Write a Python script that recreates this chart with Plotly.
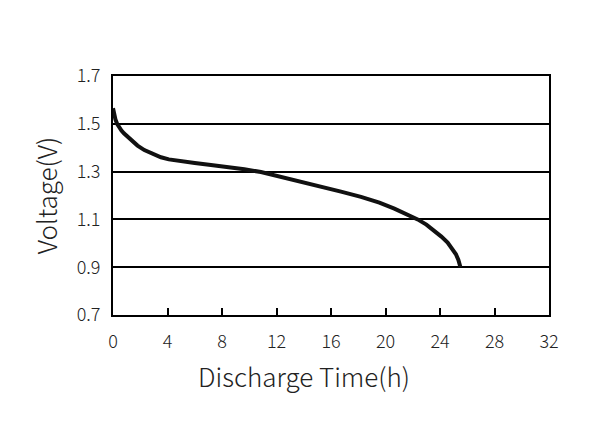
import plotly.graph_objects as go

time_h = [0, 0.08, 0.18, 0.3, 0.45, 0.62, 0.8, 1.0, 1.32, 1.8, 2.3, 2.9, 3.52, 4.1, 4.74, 6.0, 7.19, 8.4, 9.64, 10.86, 11.6,
          12.33, 13.8, 15.27, 16.73, 18.2, 19.55, 20.65, 21.6, 22.36, 23.0, 23.58, 24.1, 24.56, 24.9, 25.17, 25.35, 25.45, 25.5]
voltage = [1.565, 1.540, 1.518, 1.500, 1.485, 1.472, 1.460, 1.449, 1.432, 1.409, 1.390, 1.373, 1.360, 1.351, 1.345, 1.336, 1.328, 1.320, 1.310, 1.298, 1.288,
           1.275, 1.256, 1.236, 1.216, 1.194, 1.170, 1.145, 1.122, 1.100, 1.078, 1.053, 1.028, 1.003, 0.978, 0.954, 0.930, 0.912, 0.900]

x_ticks = [0, 4, 8, 12, 16, 20, 24, 28, 32]
y_ticks = [0.7, 0.9, 1.1, 1.3, 1.5, 1.7]

font = "Noto Sans CJK SC"

fig = go.Figure()
fig.add_trace(go.Scatter(x=time_h, y=voltage, mode="lines",
                         line=dict(color="#111111", width=4, shape="linear"),
                         hoverinfo="skip", showlegend=False))

fig.update_layout(
    width=587, height=417,
    margin=dict(l=105, r=46, t=68, b=110),
    paper_bgcolor="white", plot_bgcolor="white",
    font=dict(family=font, color="#222222", size=18, weight=300),
    showlegend=False,
    xaxis=dict(range=[0, 32], tickvals=x_ticks, ticktext=[str(v) for v in x_ticks],
               showgrid=False, zeroline=False, showline=True, linecolor="black", linewidth=2,
               mirror=True, ticks="inside", ticklen=7, tickwidth=2, tickcolor="black",
               ticklabelstandoff=9,
               tickfont=dict(size=18, family=font, weight=300)),
    yaxis=dict(range=[0.7, 1.7], tickvals=y_ticks, ticktext=[f"{v:.1f}" for v in y_ticks],
               showgrid=True, gridcolor="black", gridwidth=2, zeroline=False,
               showline=True, linecolor="black", linewidth=2, mirror=True, ticks="",
               ticklabelstandoff=7,
               tickfont=dict(size=18, family=font, weight=300)),
    annotations=[
        dict(text="Discharge Time(h)", xref="paper", yref="paper", x=0.438, y=-0.255,
             xanchor="center", yanchor="middle", showarrow=False,
             font=dict(size=26, family=font, color="#222222", weight=300)),
        dict(text="Voltage(V)", xref="paper", yref="paper", x=-0.154, y=0.5,
             xanchor="center", yanchor="middle", showarrow=False, textangle=-90,
             font=dict(size=26, family=font, color="#222222", weight=300)),
    ],
)

fig.write_html("out.html")
